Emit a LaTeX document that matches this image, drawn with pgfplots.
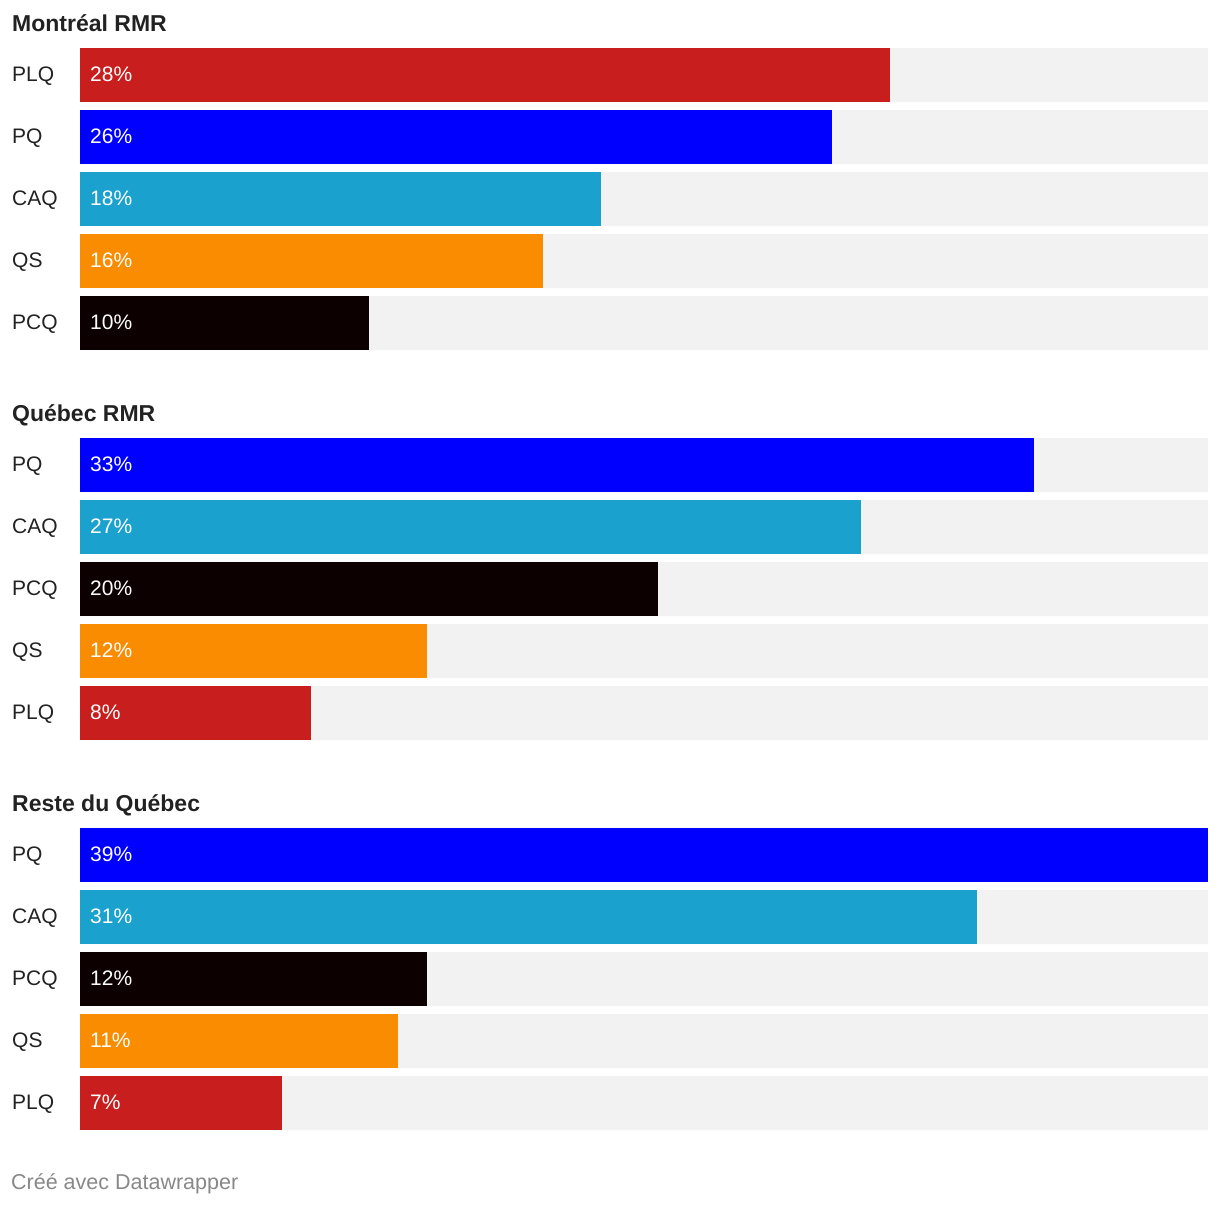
\documentclass[border=0pt]{standalone}
\usepackage{pgfplots}
\pgfplotsset{compat=1.18}
\usepackage{fontspec}
\setmainfont{Liberation Sans}
\definecolor{plq}{HTML}{C81E1E}
\definecolor{pq}{HTML}{0000FF}
\definecolor{caq}{HTML}{1AA1CE}
\definecolor{qs}{HTML}{F98C00}
\definecolor{pcq}{HTML}{0D0000}
\definecolor{bgbar}{HTML}{F2F2F2}
\definecolor{txt}{HTML}{222222}
\definecolor{foot}{HTML}{888888}
\pgfplotsset{
  panel/.style={anchor=north west, scale only axis, width=1128pt, height=310pt,
    xmin=0, xmax=39, ymin=-0.5, ymax=4.5, y dir=reverse, hide axis, clip=false},
  hb/.style={xbar, bar width=54pt, bar shift=0pt, draw=none, fill=#1}
}
\begin{document}
\begin{tikzpicture}[x=1pt,y=1pt]
\useasboundingbox (0,0) rectangle (1220,-1206);
% Panel 1
\begin{axis}[panel, at={(80pt,-44pt)}]
\addplot[hb=bgbar] coordinates {(39,0) (39,1) (39,2) (39,3) (39,4)};
\addplot[hb=plq] coordinates {(28,0)};
\addplot[hb=pq]  coordinates {(26,1)};
\addplot[hb=caq] coordinates {(18,2)};
\addplot[hb=qs]  coordinates {(16,3)};
\addplot[hb=pcq] coordinates {(10,4)};
\end{axis}
% Panel 2
\begin{axis}[panel, at={(80pt,-434pt)}]
\addplot[hb=bgbar] coordinates {(39,0) (39,1) (39,2) (39,3) (39,4)};
\addplot[hb=pq]  coordinates {(33,0)};
\addplot[hb=caq] coordinates {(27,1)};
\addplot[hb=pcq] coordinates {(20,2)};
\addplot[hb=qs]  coordinates {(12,3)};
\addplot[hb=plq] coordinates {(8,4)};
\end{axis}
% Panel 3
\begin{axis}[panel, at={(80pt,-824pt)}]
\addplot[hb=bgbar] coordinates {(39,0) (39,1) (39,2) (39,3) (39,4)};
\addplot[hb=pq]  coordinates {(39,0)};
\addplot[hb=caq] coordinates {(31,1)};
\addplot[hb=pcq] coordinates {(12,2)};
\addplot[hb=qs]  coordinates {(11,3)};
\addplot[hb=plq] coordinates {(7,4)};
\end{axis}
% Titles
\begin{scope}[every node/.style={anchor=base west, inner sep=0pt, text=txt, font=\fontsize{23}{27}\selectfont\bfseries}]
\node at (12,-31.5) {Montréal RMR};
\node at (12,-421.5) {Québec RMR};
\node at (12,-811.5) {Reste du Québec};
\end{scope}
% Category labels
\begin{scope}[every node/.style={anchor=base west, inner sep=0pt, text=txt, font=\fontsize{21}{25}\selectfont}]
\foreach \lab [count=\i from 0] in {PLQ,PQ,CAQ,QS,PCQ} {\node at (12,-81.5-62*\i) {\lab};}
\foreach \lab [count=\i from 0] in {PQ,CAQ,PCQ,QS,PLQ} {\node at (12,-471.5-62*\i) {\lab};}
\foreach \lab [count=\i from 0] in {PQ,CAQ,PCQ,QS,PLQ} {\node at (12,-861.5-62*\i) {\lab};}
\end{scope}
% Value labels
\begin{scope}[every node/.style={anchor=base west, inner sep=0pt, text=white, font=\fontsize{21}{25}\selectfont}]
\foreach \v [count=\i from 0] in {28,26,18,16,10} {\node at (90,-81.5-62*\i) {\v\%};}
\foreach \v [count=\i from 0] in {33,27,20,12,8} {\node at (90,-471.5-62*\i) {\v\%};}
\foreach \v [count=\i from 0] in {39,31,12,11,7} {\node at (90,-861.5-62*\i) {\v\%};}
\end{scope}
% Footer
\node[anchor=base west, inner sep=0pt, text=foot, font=\fontsize{21.5}{25}\selectfont] at (11,-1189) {Créé avec Datawrapper};
\end{tikzpicture}
\end{document}
